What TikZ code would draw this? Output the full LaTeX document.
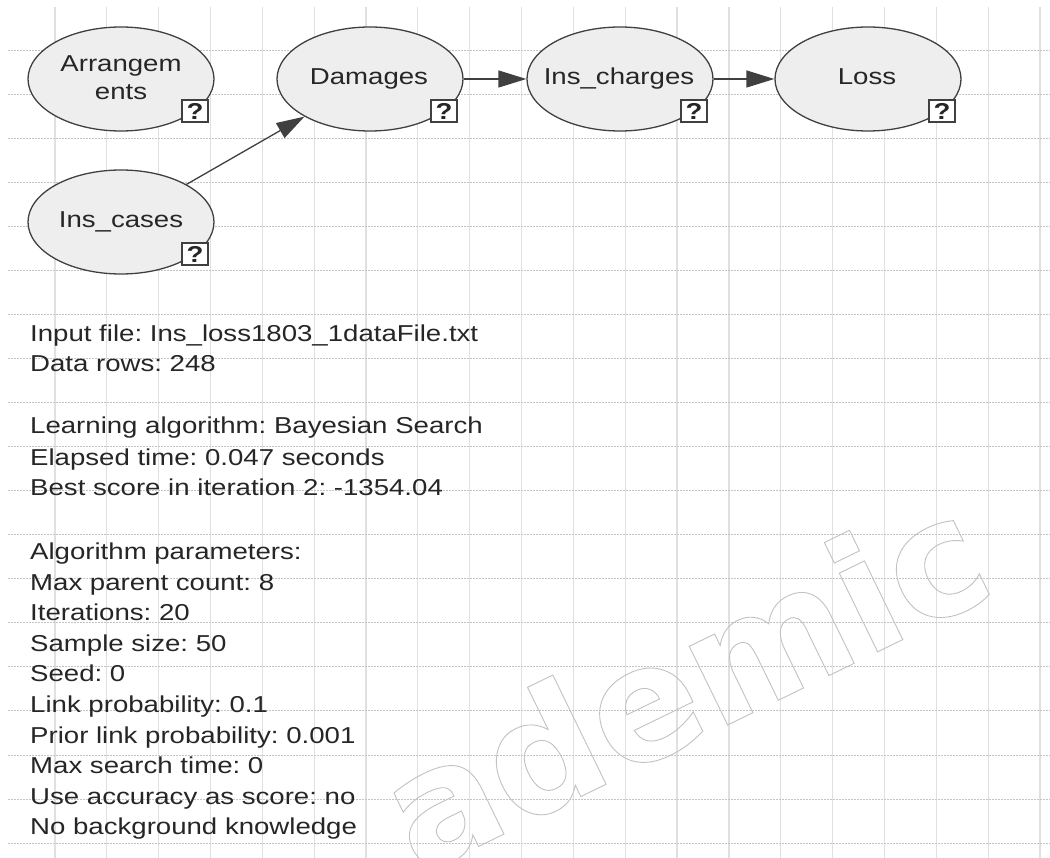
\documentclass[tikz,border=0pt]{standalone}
\usepackage{fontspec}
\setmainfont{Liberation Sans}
\newfontfamily\wmfont{DejaVu Sans}
\usetikzlibrary{shapes.geometric,arrows.meta}
\definecolor{nodefill}{HTML}{EEEEEE}
\definecolor{nodeline}{HTML}{404040}
\definecolor{txt}{HTML}{262626}
\definecolor{vgrid}{HTML}{E0E0E0}
\definecolor{hgrid}{HTML}{C4C4C4}
\definecolor{wm}{HTML}{C2C2C2}
\newcommand{\wide}[1]{\scalebox{1.2}[1]{#1}}
\newcommand{\outl}[1]{\special{pdf:literal direct 1 Tr 0.9 w}#1\special{pdf:literal direct 0 Tr}}
\frenchspacing
\begin{document}
\begin{tikzpicture}[x=1pt,y=-1pt,
  bnode/.style={ellipse, draw=nodeline, fill=nodefill, line width=1.3pt,
    minimum width=186pt, minimum height=104pt, inner sep=0pt},
  lbl/.style={font=\fontsize{23}{28}\selectfont, text=txt, inner sep=0pt, anchor=base},
  qbox/.style={draw=nodeline, fill=white, line width=1.3pt, minimum width=26pt,
    minimum height=22pt, inner sep=0pt, font=\fontsize{23}{23}\selectfont\bfseries, text=txt},
  arr/.style={draw=nodeline, line width=1.3pt, -{Triangle[length=28pt,width=17pt]}},
  info/.style={font=\fontsize{23}{28}\selectfont, text=txt, inner sep=0pt, anchor=base west},
  vline/.style={draw=vgrid, line width=1.2pt},
  hline/.style={draw=hgrid, line width=0.9pt, dash pattern=on 1.5pt off 1.5pt}
]
\fill[white] (0,0) rectangle (1050,858);
\useasboundingbox (0,0) rectangle (1050,858);

% grid
\foreach \i in {0,...,19} \draw[vline] ({55+51.84*\i},7) -- ({55+51.84*\i},858);
\foreach \j in {0,...,18} \draw[hline] (8,{50+44.06*\j}) -- (1050,{50+44.06*\j});

% watermark
\begin{scope}
\clip (0,0) rectangle (1050,858);
\node[rotate=26, anchor=base west, inner sep=0pt, text=wm,
  font=\wmfont\bfseries\fontsize{160}{160}\selectfont] (wmark) at (418,876) {\outl{ademic}};
\end{scope}

% nodes
\node[bnode] (arrn) at (121,79) {};
\node[bnode] (insc) at (121,222) {};
\node[bnode] (dam) at (370,79) {};
\node[bnode] (insch) at (620,79) {};
\node[bnode] (loss) at (868,79) {};

% connectors
\draw[arr] (insc) -- (dam);
\draw[arr] (dam) -- (insch);
\draw[arr] (insch) -- (loss);

% question boxes
\node[qbox] (qarr) at (195,111) {\wide{?}};
\node[qbox] (qinsc) at (195,254) {\wide{?}};
\node[qbox] (qdam) at (444,111) {\wide{?}};
\node[qbox] (qinsch) at (694,111) {\wide{?}};
\node[qbox] (qloss) at (942,111) {\wide{?}};

% labels
\node[lbl] (larr1) at (121,72) {\wide{Arrangem}};
\node[lbl] (larr2) at (121,100) {\wide{ents}};
\node[lbl] (linsc) at (121,228) {\wide{Ins\_cases}};
\node[lbl] (ldam) at (369,85) {\wide{Damages}};
\node[lbl] (linsch) at (619,85) {\wide{Ins\_charges}};
\node[lbl] (lloss) at (867,85) {\wide{Loss}};

% info text
\node[info] (t1) at (30,342) {\wide{Input file: Ins\_loss1803\_1dataFile.txt}};
\node[info] (t2) at (30,372) {\wide{Data rows: 248}};
\node[info] (t3) at (30,434) {\wide{Learning algorithm: Bayesian Search}};
\node[info] (t4) at (30,465) {\wide{Elapsed time: 0.047 seconds}};
\node[info] (t5) at (30,495) {\wide{Best score in iteration 2: -1354.04}};
\node[info] (t6) at (30,559.5) {\wide{Algorithm parameters:}};
\node[info] (t7) at (30,590.1) {\wide{Max parent count: 8}};
\node[info] (t8) at (30,620.7) {\wide{Iterations: 20}};
\node[info] (t9) at (30,651.3) {\wide{Sample size: 50}};
\node[info] (t10) at (30,681.9) {\wide{Seed: 0}};
\node[info] (t11) at (30,712.5) {\wide{Link probability: 0.1}};
\node[info] (t12) at (30,743.1) {\wide{Prior link probability: 0.001}};
\node[info] (t13) at (30,773.7) {\wide{Max search time: 0}};
\node[info] (t14) at (30,804.3) {\wide{Use accuracy as score: no}};
\node[info] (t15) at (30,834.9) {\wide{No background knowledge}};
\end{tikzpicture}
\end{document}
